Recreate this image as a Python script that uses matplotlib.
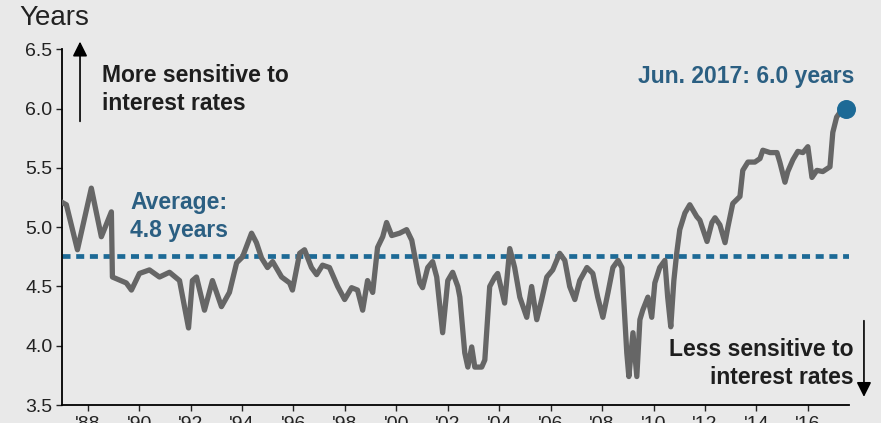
import matplotlib
matplotlib.use("Agg")
import matplotlib.pyplot as plt

years = [1987.0, 1987.17, 1987.6, 1988.14, 1988.53, 1988.92, 1988.96, 1989.5, 1989.7, 1990.01,
         1990.4, 1990.79, 1991.18, 1991.57, 1991.92, 1992.07, 1992.23, 1992.54, 1992.85, 1993.2,
         1993.51, 1993.79, 1994.02, 1994.37, 1994.56, 1994.76, 1994.99, 1995.19, 1995.54, 1995.85,
         1995.96, 1996.24, 1996.43, 1996.7, 1996.9, 1997.13, 1997.4, 1997.72, 1997.99, 1998.26,
         1998.49, 1998.69, 1998.88, 1999.08, 1999.27, 1999.47, 1999.62, 1999.82, 2000.13, 2000.4,
         2000.6, 2000.91, 2001.02, 2001.22, 2001.41, 2001.57, 2001.8, 2002.0, 2002.19, 2002.39,
         2002.47, 2002.66, 2002.78, 2002.93, 2003.05, 2003.32, 2003.44, 2003.63, 2003.83, 2003.94,
         2004.21, 2004.41, 2004.6, 2004.8, 2005.07, 2005.26, 2005.46, 2005.65, 2005.85, 2006.08,
         2006.35, 2006.55, 2006.74, 2006.94, 2007.13, 2007.41, 2007.64, 2007.83, 2008.03, 2008.23,
         2008.42, 2008.62, 2008.77, 2008.96, 2009.04, 2009.2, 2009.35, 2009.47, 2009.58, 2009.78,
         2009.93, 2010.05, 2010.24, 2010.44, 2010.55, 2010.67, 2010.79, 2010.9, 2011.02, 2011.22,
         2011.41, 2011.68, 2011.8, 2012.08, 2012.27, 2012.39, 2012.58, 2012.78, 2012.89, 2013.08,
         2013.36, 2013.47, 2013.67, 2013.94, 2014.14, 2014.25, 2014.53, 2014.8, 2014.91, 2015.11,
         2015.22, 2015.42, 2015.61, 2015.81, 2016.0, 2016.16, 2016.35, 2016.58, 2016.86, 2016.97,
         2017.12, 2017.25, 2017.5]
duration = [5.21, 5.19, 4.81, 5.33, 4.92, 5.13, 4.58, 4.53, 4.47, 4.61,
            4.64, 4.58, 4.62, 4.55, 4.15, 4.55, 4.58, 4.30, 4.55, 4.33,
            4.45, 4.70, 4.75, 4.95, 4.87, 4.74, 4.66, 4.71, 4.58, 4.53,
            4.47, 4.78, 4.81, 4.66, 4.60, 4.68, 4.66, 4.50, 4.39, 4.49,
            4.47, 4.30, 4.55, 4.45, 4.83, 4.92, 5.04, 4.93, 4.95, 4.98,
            4.89, 4.53, 4.49, 4.66, 4.71, 4.58, 4.11, 4.55, 4.62, 4.50,
            4.41, 3.94, 3.82, 3.99, 3.82, 3.82, 3.88, 4.50, 4.58, 4.61,
            4.36, 4.82, 4.66, 4.41, 4.24, 4.50, 4.22, 4.39, 4.58, 4.64,
            4.78, 4.72, 4.50, 4.39, 4.55, 4.66, 4.61, 4.41, 4.24, 4.45,
            4.66, 4.72, 4.66, 3.94, 3.74, 4.11, 3.74, 4.22, 4.30, 4.41,
            4.24, 4.53, 4.66, 4.72, 4.41, 4.16, 4.55, 4.78, 4.98, 5.12,
            5.19, 5.09, 5.06, 4.88, 5.04, 5.08, 5.02, 4.87, 5.00, 5.20,
            5.26, 5.48, 5.55, 5.55, 5.58, 5.65, 5.63, 5.63, 5.55, 5.38,
            5.47, 5.57, 5.64, 5.63, 5.68, 5.42, 5.48, 5.47, 5.51, 5.80,
            5.93, 5.97, 6.00]
average = 4.76
last_year = 2017.5
last_value = 6.0
yticks = [3.5, 4.0, 4.5, 5.0, 5.5, 6.0, 6.5]
xtick_years = list(range(1988, 2017, 2))
xtick_labels = ["'88", "'90", "'92", "'94", "'96", "'98", "'00", "'02", "'04",
                "'06", "'08", "'10", "'12", "'14", "'16"]

BG = "#e9e9e9"
GRAY = "#666666"
BLUE = "#2b5f82"
DOT = "#1d6a96"

plt.rcParams['font.family'] = ['Liberation Sans', 'DejaVu Sans']

fig = plt.figure(figsize=(8.81, 4.23), dpi=100, facecolor=BG)
ax = fig.add_axes([62/881, 1-405/423, (849-62)/881, (405-49.5)/423])
ax.set_facecolor(BG)

ax.axhline(average, color=DOT, lw=3.4, dashes=(1.7, 1.2), zorder=2)
ax.plot(years, duration, color=GRAY, lw=3.8, solid_joinstyle='round', zorder=3)
ax.scatter([last_year], [last_value], s=160, color=DOT, zorder=4, clip_on=False)

ax.set_xlim(1987.0, 2017.6)
ax.set_ylim(3.5, 6.5)
ax.set_yticks(yticks)
ax.set_yticklabels([f"{v:.1f}" for v in yticks])
ax.set_xticks(xtick_years)
ax.set_xticklabels(xtick_labels)
for s in ['top', 'right']:
    ax.spines[s].set_visible(False)
for s in ['left', 'bottom']:
    ax.spines[s].set_color('black')
    ax.spines[s].set_linewidth(1.3)
ax.tick_params(axis='both', labelsize=14, colors='#222222', length=4, width=1.0)
ax.tick_params(axis='y', pad=3)
ax.tick_params(axis='x', pad=4)

fig.text(19/881, 1-18/423, "Years", fontsize=20, color='#222222', va='center', ha='left')

ax.text(0.051, 0.888, "More sensitive to\ninterest rates", transform=ax.transAxes,
        fontsize=16.5, fontweight='bold', color='#1e1e1e', va='center', ha='left', linespacing=1.3)
ax.annotate("", xy=(0.0229, 1.03), xytext=(0.0229, 0.79), xycoords='axes fraction',
            textcoords='axes fraction', annotation_clip=False,
            arrowprops=dict(arrowstyle='-|>', color='black', lw=1.2, mutation_scale=22))

ax.text(0.0864, 0.53, "Average:\n4.8 years", transform=ax.transAxes,
        fontsize=16.5, fontweight='bold', color=BLUE, va='center', ha='left', linespacing=1.3)

ax.text(0.869, 0.924, "Jun. 2017: 6.0 years", transform=ax.transAxes,
        fontsize=16.5, fontweight='bold', color=BLUE, va='center', ha='center', clip_on=False)

ax.text(1.006, 0.116, "Less sensitive to\ninterest rates", transform=ax.transAxes,
        fontsize=16.5, fontweight='bold', color='#1e1e1e', va='center', ha='right',
        linespacing=1.3, multialignment='right')
ax.annotate("", xy=(1.019, 0.015), xytext=(1.019, 0.245), xycoords='axes fraction',
            textcoords='axes fraction', annotation_clip=False,
            arrowprops=dict(arrowstyle='-|>', color='black', lw=1.2, mutation_scale=22))

fig.savefig("out.png", dpi=100, facecolor=BG)
